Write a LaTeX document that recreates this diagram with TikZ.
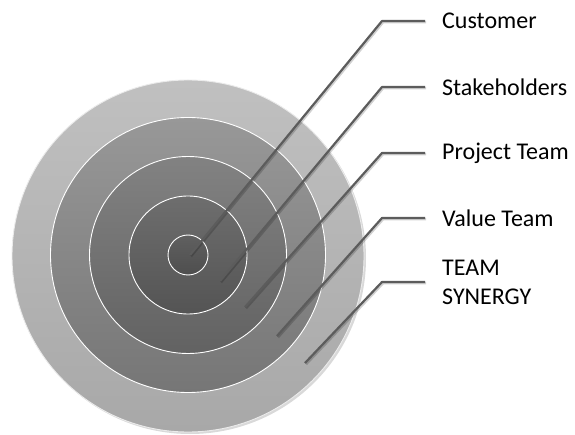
\documentclass[tikz,border=0pt]{standalone}
\usepackage{fontspec}
\setmainfont{Carlito}
\usetikzlibrary{shadows}
\definecolor{leadgray}{RGB}{92,92,92}
\tikzset{
  ring/.style={circle, inner sep=0pt, draw=white, line width=0.9pt},
  leader/.style={draw=leadgray, line width=2.2pt, line join=round},
  leadershade/.style={draw=black, opacity=0.18, line width=2.6pt, line join=round, transform canvas={xshift=1pt, yshift=-1.2pt}},
  lbl/.style={anchor=west, inner sep=0pt, font=\fontsize{24}{29}\selectfont, align=left}
}
\begin{document}
\begin{tikzpicture}[x=1pt, y=-1pt]
\useasboundingbox (0,0) rectangle (575,435);
% rings
\node[ring, minimum size=352pt, draw={rgb,255:red,235;green,235;blue,235}, top color={rgb,255:red,192;green,192;blue,192}, bottom color={rgb,255:red,168;green,168;blue,168},
  drop shadow={shadow xshift=2pt, shadow yshift=-2pt, opacity=0.3}] (r5) at (188,256) {};
\node[ring, minimum size=275pt, top color={rgb,255:red,152;green,152;blue,152}, bottom color={rgb,255:red,118;green,118;blue,118}] (r4) at (188,255) {};
\node[ring, minimum size=197pt, top color={rgb,255:red,130;green,130;blue,130}, bottom color={rgb,255:red,98;green,98;blue,98}] (r3) at (188,255) {};
\node[ring, minimum size=118pt, top color={rgb,255:red,110;green,110;blue,110}, bottom color={rgb,255:red,84;green,84;blue,84}] (r2) at (188,255) {};
\node[ring, minimum size=40pt, top color={rgb,255:red,96;green,96;blue,96}, bottom color={rgb,255:red,78;green,78;blue,78}] (r1) at (188,255) {};
% labels
\node[lbl] (l1) at (442,21) {Customer};
\node[lbl] (l2) at (442,87) {Stakeholders};
\node[lbl] (l3) at (442,153) {Project Team};
\node[lbl] (l4) at (442,218) {Value Team};
\node[lbl] (l5) at (442,282) {TEAM\\SYNERGY};
% leader end points and elbows
\coordinate (e1) at (190,255);
\coordinate (e2) at (220,281);
\coordinate (e3) at (245,307);
\coordinate (e4) at (277,336);
\coordinate (e5) at (305,363);
\coordinate (k1) at (382,21);
\coordinate (k2) at (382,87);
\coordinate (k3) at (382,153);
\coordinate (k4) at (382,218);
\coordinate (k5) at (382,282);
\foreach \i in {1,...,5}{
  \draw[leadershade] (e\i) -- (k\i) -- ([xshift=-17pt]l\i.west);
  \draw[leader] (e\i) -- (k\i) -- ([xshift=-17pt]l\i.west);
}
\end{tikzpicture}
\end{document}
